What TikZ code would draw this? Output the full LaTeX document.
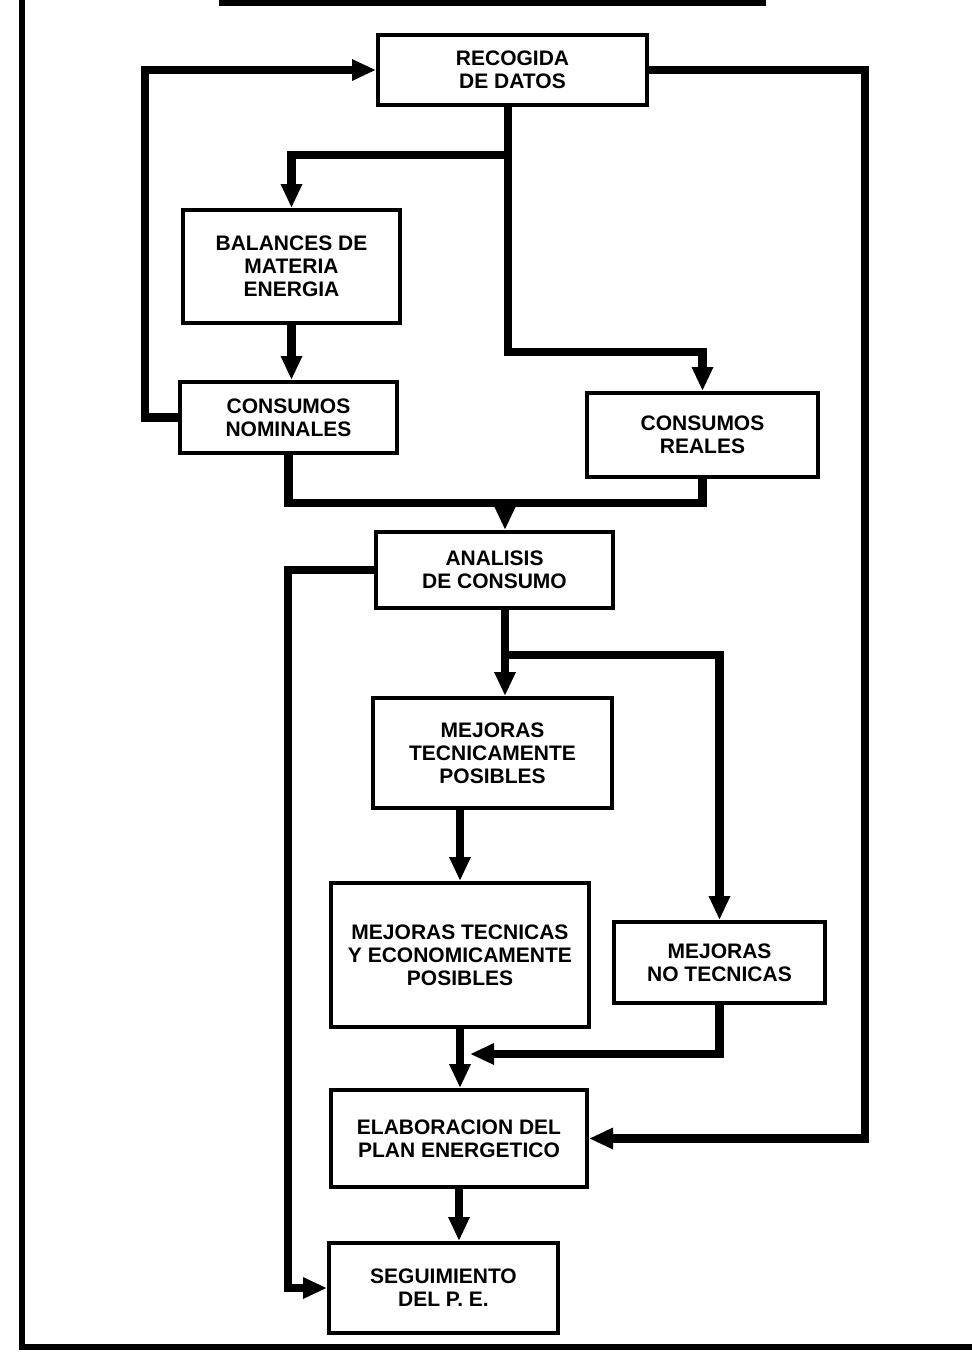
\documentclass[tikz,border=0pt]{standalone}
\usepackage{fontspec}
\setmainfont{Liberation Sans}
\usetikzlibrary{arrows.meta,calc}
\begin{document}
\begin{tikzpicture}[x=0.5pt,y=-0.5pt,
  box/.style={draw, line width=2pt, align=center, inner sep=0pt,
    font=\bfseries\fontsize{10.5}{11.5}\selectfont},
  conn/.style={line width=4.3pt, line join=miter},
  arr/.style={-{Triangle[length=12pt,width=10pt]}},
  frameline/.style={line width=2.6pt}]
\useasboundingbox (0,0) rectangle (972,1360);
\clip (0,0) rectangle (972,1360);
% frame
\draw[line width=3.5pt] (222,-30) rectangle (762,2);
\draw[frameline] (22,-10) -- (22,1347) -- (990,1347);
% nodes
\node[box, minimum width=134.5pt, minimum height=35pt] (rec) at (512.5,70) {RECOGIDA\\DE DATOS};
\node[box, minimum width=108.5pt, minimum height=56.5pt] (bal) at (291.5,266.5) {BALANCES DE\\MATERIA\\ENERGIA};
\node[box, minimum width=108.5pt, minimum height=35.5pt] (nom) at (288.5,417.5) {CONSUMOS\\NOMINALES};
\node[box, minimum width=115.5pt, minimum height=42pt] (rea) at (702.5,435) {CONSUMOS\\REALES};
\node[box, minimum width=118.5pt, minimum height=38pt] (ana) at (494.5,570) {ANALISIS\\DE CONSUMO};
\node[box, minimum width=119.5pt, minimum height=55pt] (mtp) at (492.5,753) {MEJORAS\\TECNICAMENTE\\POSIBLES};
\node[box, minimum width=129pt, minimum height=72pt] (mte) at (460,955) {MEJORAS TECNICAS\\Y ECONOMICAMENTE\\POSIBLES};
\node[box, minimum width=105.5pt, minimum height=40.5pt] (mnt) at (719.5,962.5) {MEJORAS\\NO TECNICAS};
\node[box, minimum width=128pt, minimum height=48.5pt] (ela) at (459,1138.5) {ELABORACION DEL\\PLAN ENERGETICO};
\node[box, minimum width=114.5pt, minimum height=45pt] (seg) at (443.5,1288) {SEGUIMIENTO\\DEL P. E.};
% junction coordinates
\coordinate (j1) at (508,155);
\coordinate (j2) at (508,352);
\coordinate (j3) at (505,503);
\coordinate (j4) at (505,655);
\coordinate (j5) at (470,1054);
\coordinate (lx) at (145,0);
\coordinate (l2) at (288,0);
\coordinate (rx) at (865,0);
% connectors
\draw[conn,arr] (nom.west) -| (lx |- rec.west) -- (rec.west);
\draw[conn,arr] (j1 |- rec.south) -- (j2) -| (rea.north);
\draw[conn,arr] (j1) -| (bal.north);
\draw[conn,arr] (bal.south) -- (bal.south |- nom.north);
\draw[conn] (nom.south) |- (rea.south |- j3) -- (rea.south);
\draw[conn,arr] (j3) -- (j3 |- ana.north);
\draw[conn,arr] (ana.west) -| (l2 |- seg.west) -- (seg.west);
\draw[conn,arr] (j4 |- ana.south) -- (j4 |- mtp.north);
\draw[conn,arr] (j4) -| (mnt.north);
\draw[conn,arr] (mte.north |- mtp.south) -- (mte.north);
\draw[conn,arr] (mte.south) -- (mte.south |- ela.north);
\draw[conn,arr] (mnt.south) |- (j5);
\draw[conn,arr] (rec.east) -| (rx |- ela.east) -- (ela.east);
\draw[conn,arr] (ela.south) -- (ela.south |- seg.north);
\end{tikzpicture}
\end{document}
